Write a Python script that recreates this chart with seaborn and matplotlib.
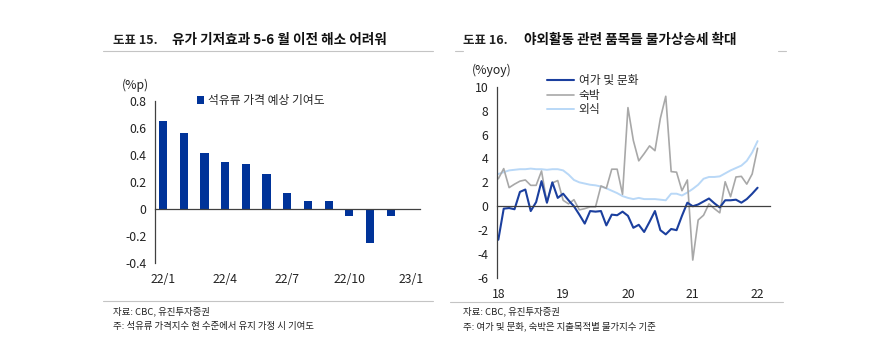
import numpy as np
import pandas as pd
import matplotlib
matplotlib.use("Agg")
import matplotlib.pyplot as plt
import seaborn as sns

# ---- 도표 15 : 석유류 가격 예상 기여도 (%p), 2022 monthly
bar_months = ['22/1', '22/2', '22/3', '22/4', '22/5', '22/6',
              '22/7', '22/8', '22/9', '22/10', '22/11', '22/12']
oil_contrib = [0.65, 0.56, 0.41, 0.345, 0.335, 0.255,
               0.12, 0.055, 0.055, -0.055, -0.25, -0.05]
bar_tick_labels = ['22/1', '22/4', '22/7', '22/10', '23/1']

# ---- 도표 16 : %yoy, monthly 2018/1 ~ 2022/1
leisure = [-2.8, -0.2, -0.15, -0.25, 1.2, 1.4, -0.4, 0.35, 2.1, 0.3, 2.0, 0.7,
           1.05, 0.5, 0.0, -0.7, -1.45, -0.4, -0.45, -0.4, -1.6, -0.7, -0.75, -0.45,
           -0.8, -1.8, -1.55, -2.15, -1.3, -0.4, -2.0, -2.35, -1.9, -2.0, -0.8, 0.3,
           0.0, 0.15, 0.4, 0.65, 0.25, -0.1, 0.5, 0.5, 0.55, 0.3, 0.6, 1.05, 1.55]
lodging = [2.3, 3.15, 1.56, 1.85, 2.1, 2.2, 1.75, 1.75, 2.95, 0.3, 1.95, 2.15,
           0.5, 0.2, 0.55, -0.3, -0.2, -0.05, -0.05, 1.7, 1.5, 3.1, 3.1, 1.0,
           8.25, 5.5, 3.8, 4.4, 5.05, 4.65, 7.35, 9.2, 2.9, 2.85, 1.3, 2.2,
           -4.5, -1.15, -0.75, 0.2, -0.2, -0.55, 2.05, 0.8, 2.45, 2.5, 1.85, 2.7, 4.85]
dining = [2.7, 2.85, 3.0, 3.05, 3.1, 3.1, 3.15, 3.1, 3.1, 3.05, 3.1, 3.1,
          3.0, 2.65, 2.2, 2.0, 1.9, 1.8, 1.75, 1.65, 1.5, 1.3, 1.1, 0.85,
          0.7, 0.6, 0.7, 0.6, 0.6, 0.6, 0.55, 0.5, 1.05, 1.05, 0.9, 1.15,
          1.45, 1.8, 2.3, 2.45, 2.45, 2.5, 2.75, 3.0, 3.2, 3.4, 3.8, 4.5, 5.45]
series_names = ['여가 및 문화', '숙박', '외식']
year_labels = ['18', '19', '20', '21', '22']

BAR = '#003399'
C_LEIS = '#1b3f9e'
C_LODG = '#a8a8a8'
C_DIN = '#b9d8f7'
AXC = '#404040'
TXT = '#222222'
RULE = '#c4c4c4'

sns.set_style('white')
plt.rcParams['font.family'] = ['Noto Sans CJK KR', 'DejaVu Sans']
plt.rcParams['axes.unicode_minus'] = False
plt.rcParams['font.size'] = 8.5

W, H = 886, 352
fig = plt.figure(figsize=(W / 100, H / 100), dpi=100)


def px(x, y):
    return x / W, 1 - y / H


def rule(x0, x1, y):
    fig.add_artist(plt.Line2D([x0 / W, x1 / W], [1 - y / H] * 2, color=RULE, lw=0.8))


# ---------------- left chart
ax1 = fig.add_axes([155 / W, 1 - 263 / H, (420 - 155) / W, (263 - 100.7) / H])
sns.barplot(x=bar_months, y=oil_contrib, color=BAR, saturation=1, width=0.4,
            linewidth=0, edgecolor=BAR, ax=ax1, label='석유류 가격 예상 기여도')
ax1.set_xlim(-0.4, 12.42)
ax1.set_ylim(-0.4, 0.8)
yt = np.round(np.arange(-0.4, 0.81, 0.2), 1)
ax1.set_yticks(yt)
ax1.set_yticklabels(['0' if abs(v) < 1e-9 else f'{v:.1f}' for v in yt])
ax1.set_xticks([2.5, 5.5, 8.5, 11.5])
ax1.set_xticklabels([])
ax1.spines['bottom'].set_position(('data', 0))
sec1 = ax1.secondary_xaxis(0)
sec1.set_xticks([0, 3, 6, 9, 12], labels=bar_tick_labels)
sec1.tick_params(length=0, pad=7, labelsize=8.8, labelcolor=TXT)
sec1.spines['bottom'].set_visible(False)
ax1.legend(loc='center left', bbox_to_anchor=(0.158, 1.0), frameon=False,
           handlelength=0.6, handleheight=0.75, handletextpad=0.35,
           borderaxespad=0, borderpad=0, fontsize=8.5)

# ---------------- right chart
ax2 = fig.add_axes([496.7 / W, 1 - 278 / H, (770 - 496.7) / W, (278 - 86.7) / H])
months = np.arange(len(leisure))
df = pd.DataFrame({'m': months, series_names[0]: leisure,
                   series_names[1]: lodging, series_names[2]: dining})
sns.lineplot(data=df, x='m', y=series_names[2], color=C_DIN, lw=1.4, ax=ax2, label=series_names[2])
sns.lineplot(data=df, x='m', y=series_names[1], color=C_LODG, lw=1.2, ax=ax2, label=series_names[1])
sns.lineplot(data=df, x='m', y=series_names[0], color=C_LEIS, lw=1.5, ax=ax2, label=series_names[0])
ax2.set_xlim(-0.3, 50.3)
ax2.set_ylim(-6, 10)
ax2.set_yticks(range(-6, 11, 2))
ax2.set_xticks([11.6, 23.6, 35.6, 47.6])
ax2.set_xticklabels([])
ax2.set_xlabel('')
ax2.set_ylabel('')
ax2.spines['bottom'].set_position(('data', 0))
sec2 = ax2.secondary_xaxis(0)
sec2.set_xticks([0, 12, 24, 36, 48], labels=year_labels)
sec2.tick_params(length=0, pad=7, labelsize=8.8, labelcolor=TXT)
sec2.spines['bottom'].set_visible(False)
hl = {l.get_label(): l for l in ax2.get_lines()}
ax2.legend(handles=[hl[n] for n in series_names], labels=series_names,
           loc='upper left', bbox_to_anchor=(0.183, 1.065), frameon=False,
           handlelength=2.3, handletextpad=0.4, labelspacing=0.12,
           borderaxespad=0, borderpad=0, fontsize=8.5)

for ax in (ax1, ax2):
    for s in ('top', 'right'):
        ax.spines[s].set_visible(False)
    for s in ('left', 'bottom'):
        ax.spines[s].set_color(AXC)
        ax.spines[s].set_linewidth(0.9)
    ax.tick_params(axis='both', direction='out', length=3.5, width=0.9, color=AXC,
                   labelsize=8.8, labelcolor=TXT, pad=2.5)
    ax.tick_params(axis='x', length=3)
    ax.set_facecolor('none')

# units
fig.text(*px(121.7, 85), '(%p)', fontsize=8.8, va='center', color=TXT)
fig.text(*px(471.7, 70), '(%yoy)', fontsize=8.8, va='center', color=TXT)

# titles
fig.text(*px(113, 40), '도표 15.', fontsize=9, fontweight='bold', va='center', color='#222222')
fig.text(*px(172.5, 40), '유가 기저효과 5-6 월 이전 해소 어려워', fontsize=9.8,
         fontweight='bold', va='center', color='#111111')
fig.text(*px(463, 40), '도표 16.', fontsize=9, fontweight='bold', va='center', color='#222222')
fig.text(*px(523.5, 40), '야외활동 관련 품목들 물가상승세 확대', fontsize=9.8,
         fontweight='bold', va='center', color='#111111')
rule(103, 433, 51)
rule(455, 463, 51)
rule(778, 786, 51)

# footnotes
rule(103, 433, 301)
rule(450, 783, 302)
fig.text(*px(113, 311), '자료: CBC, 유진투자증권', fontsize=6.8, va='center', color=TXT)
fig.text(*px(113, 326.5), '주: 석유류 가격지수 현 수준에서 유지 가정 시 기여도', fontsize=6.8,
         va='center', color=TXT)
fig.text(*px(463, 311), '자료: CBC, 유진투자증권', fontsize=6.8, va='center', color=TXT)
fig.text(*px(463, 326.5), '주: 여가 및 문화, 숙박은 지출목적별 물가지수 기준', fontsize=6.8,
         va='center', color=TXT)

fig.savefig('out.png', dpi=100, facecolor='white')
